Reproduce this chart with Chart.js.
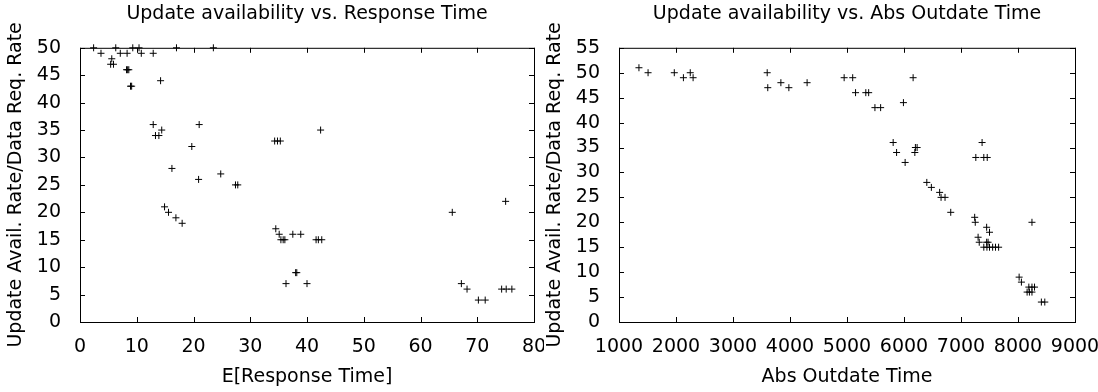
<!DOCTYPE html>
<html>
<head>
<meta charset="utf-8">
<script src="https://cdn.jsdelivr.net/npm/chart.js@4"></script>
<style>
  body { margin: 0; background: #fff; }
  #left { position: absolute; left: 0; top: 0; }
  #right { position: absolute; left: 544px; top: 0; }
</style>
</head>
<body>
<canvas id="left" width="544" height="392"></canvas>
<canvas id="right" width="554" height="392"></canvas>
<script>
// left plot: E[Response Time] vs rate
const respTime = [2.4, 6.3, 9.3, 10.4, 17.0, 23.5,
  3.7, 7.1, 8.3, 10.8, 12.9, 5.6, 5.4, 5.9, 8.2, 8.4, 8.6, 14.2, 8.9, 9.1,
  12.9, 21.0, 14.4, 42.4, 13.3, 13.9, 34.3, 34.8, 35.3, 19.7, 16.2, 24.8, 20.9,
  27.4, 27.8, 75.0, 14.9, 15.6, 65.6, 16.9, 18.0, 34.5, 35.1, 37.5, 38.9,
  35.4, 35.8, 36.1, 41.6, 42.0, 42.6, 38.0, 38.2, 36.3, 40.0, 67.2,
  68.2, 74.3, 75.1, 76.1, 70.2, 71.4]
const respRate = [50, 50, 50, 50, 50, 50,
  49, 49, 49, 49, 49, 48, 47, 47, 46, 46, 46, 44, 43, 43,
  36, 36, 35, 35, 34, 34, 33, 33, 33, 32, 28, 27, 26,
  25, 25, 22, 21, 20, 20, 19, 18, 17, 16, 16, 16,
  15, 15, 15, 15, 15, 15, 9, 9, 7, 7, 7,
  6, 6, 6, 6, 4, 4]

// right plot: Abs Outdate Time vs rate
const outdateTime = [1350, 1510, 1970, 2250, 3600, 2130, 2300, 4950, 5100, 6160,
  3840, 4300, 3610, 3980, 5150, 5330, 5380, 5990, 5490, 5590,
  5810, 7370, 6200, 6230, 5870, 6190, 7260, 7400, 7460, 6020,
  6400, 6480, 6625, 6650, 6720, 6820, 7240, 7250, 8245, 7450, 7500, 7300,
  7320, 7450, 7475, 7400, 7455, 7500, 7555, 7605, 7660,
  8020, 8060, 8190, 8245, 8290, 8160, 8200, 8245, 8410, 8470]
const outdateRate = [51, 50, 50, 50, 50, 49, 49, 49, 49, 49,
  48, 48, 47, 47, 46, 46, 46, 44, 43, 43,
  36, 36, 35, 35, 34, 34, 33, 33, 33, 32,
  28, 27, 26, 25, 25, 22, 21, 20, 20, 19, 18, 17,
  16, 16, 16, 15, 15, 15, 15, 15, 15,
  9, 8, 7, 7, 7, 6, 6, 6, 4, 4]

const yLabel = "Update Avail. Rate/Data Req. Rate"

Chart.defaults.font.family = "'DejaVu Sans'"
Chart.defaults.font.size = 19
Chart.defaults.color = "#000"

// gnuplot style frame with inward ticks on all four sides
const frameTicks = {
  id: "frameTicks",
  beforeDatasetsDraw(chart) {
    const { ctx, chartArea: a, scales } = chart
    ctx.save()
    ctx.strokeStyle = "#000"
    ctx.lineWidth = 1
    ctx.strokeRect(a.left + 0.5, a.top + 0.5, a.right - a.left, a.bottom - a.top)
    ctx.beginPath()
    scales.x.ticks.forEach(t => {
      const px = Math.round(scales.x.getPixelForValue(t.value)) + 0.5
      ctx.moveTo(px, a.bottom); ctx.lineTo(px, a.bottom - 5)
      ctx.moveTo(px, a.top); ctx.lineTo(px, a.top + 5)
    })
    scales.y.ticks.forEach(t => {
      const py = Math.round(scales.y.getPixelForValue(t.value)) + 0.5
      ctx.moveTo(a.left, py); ctx.lineTo(a.left + 5, py)
      ctx.moveTo(a.right, py); ctx.lineTo(a.right - 5, py)
    })
    ctx.stroke()
    ctx.restore()
  }
}

const crearGrafico = (canvas, xs, ys, cfg) => {
  const puntos = xs.map((x, i) => ({ x: x, y: ys[i] }))
  return new Chart(canvas, {
    type: "scatter",
    data: {
      datasets: [{
        data: puntos,
        pointStyle: "cross",
        pointRadius: 3.5,
        pointHoverRadius: 3.5,
        borderColor: "#000",
        backgroundColor: "#000",
        borderWidth: 1,
        clip: false
      }]
    },
    options: {
      responsive: false,
      animation: false,
      layout: { padding: { left: 0, right: cfg.padRight, top: 0, bottom: 0 } },
      plugins: {
        legend: { display: false },
        tooltip: { enabled: false },
        title: {
          display: true,
          text: cfg.title,
          fullSize: false,
          font: { weight: "normal", size: 19 },
          padding: { top: 3, bottom: 22 }
        }
      },
      scales: {
        x: {
          type: "linear",
          min: cfg.xMin, max: cfg.xMax,
          grid: { display: false },
          border: { display: false },
          ticks: { stepSize: cfg.xStep, padding: 6, maxRotation: 0, autoSkip: false,
            callback: v => String(v) },
          title: { display: true, text: cfg.xTitle, padding: { top: 0, bottom: 4 } },
          afterFit: s => { s.height = 70; s.paddingLeft = 0; s.paddingRight = 0 }
        },
        y: {
          type: "linear",
          min: 0, max: cfg.yMax,
          grid: { display: false },
          border: { display: false },
          ticks: { stepSize: 5, padding: 11, autoSkip: false },
          title: { display: true, text: yLabel, padding: { top: cfg.yTitlePad, bottom: 0 } },
          afterFit: s => { s.width = cfg.yWidth; s.paddingTop = 0; s.paddingBottom = 0 }
        }
      }
    },
    plugins: [frameTicks]
  })
}

crearGrafico(document.getElementById("left"), respTime, respRate, {
  title: "Update availability vs. Response Time",
  xTitle: "E[Response Time]",
  xMin: 0, xMax: 80, xStep: 10, yMax: 50,
  yWidth: 80, padRight: 10, yTitlePad: 5
})

crearGrafico(document.getElementById("right"), outdateTime, outdateRate, {
  title: "Update availability vs. Abs Outdate Time",
  xTitle: "Abs Outdate Time",
  xMin: 1000, xMax: 9000, xStep: 1000, yMax: 55,
  yWidth: 75, padRight: 23, yTitlePad: 0
})
</script>
</body>
</html>
